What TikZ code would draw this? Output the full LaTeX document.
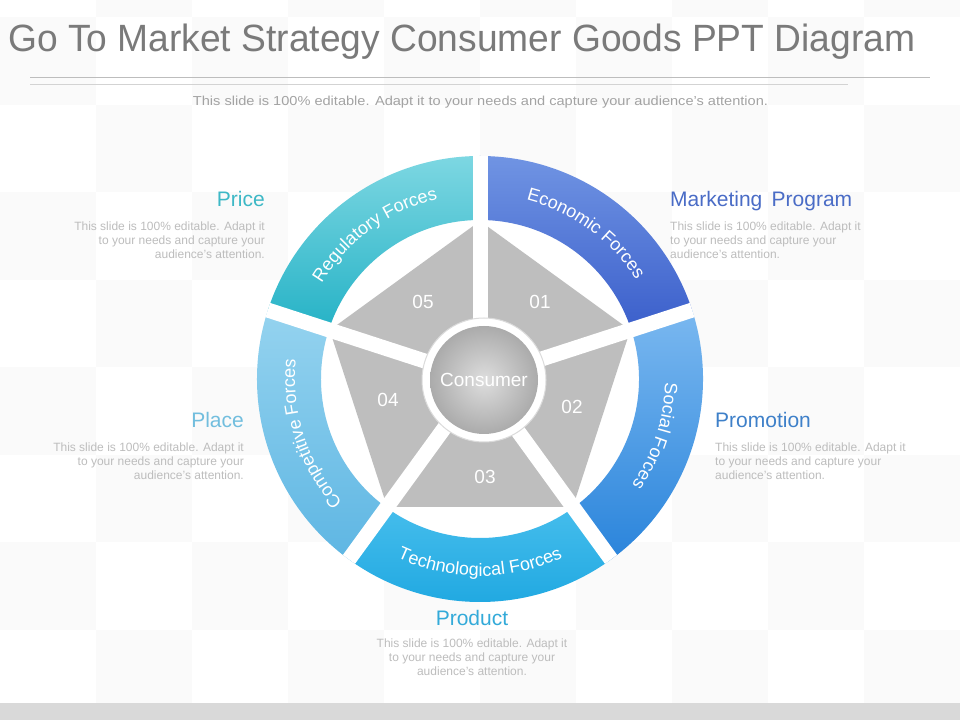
\documentclass[tikz,border=0pt]{standalone}
\usepackage{fontspec}
\setmainfont{Liberation Sans}
\usetikzlibrary{decorations.text}
\definecolor{titlegray}{HTML}{7A7A7A}
\definecolor{subgray}{HTML}{A3A3A3}
\definecolor{descgray}{HTML}{BDBDBD}
\definecolor{bargray}{HTML}{D9D9D9}
\definecolor{checker}{HTML}{FAFAFA}
\definecolor{lineA}{HTML}{BDBDBD}
\definecolor{lineB}{HTML}{D3D3D3}
\definecolor{pricecol}{HTML}{3DB8C6}
\definecolor{mktcol}{HTML}{4A6CC6}
\definecolor{placecol}{HTML}{72BEDE}
\definecolor{promocol}{HTML}{3E80C9}
\definecolor{productcol}{HTML}{33AAD9}
\definecolor{regT}{HTML}{7DD7E2}\definecolor{regB}{HTML}{25B2C6}
\definecolor{ecoT}{HTML}{7094E3}\definecolor{ecoB}{HTML}{3B5FCB}
\definecolor{socT}{HTML}{7AB8F0}\definecolor{socB}{HTML}{2A84DB}
\definecolor{tecT}{HTML}{45BDEC}\definecolor{tecB}{HTML}{1CA6E0}
\definecolor{comT}{HTML}{95D3EF}\definecolor{comB}{HTML}{5EB6E3}
\definecolor{piece}{HTML}{BEBEBE}
\newcommand\ringfont{\fontsize{18}{18}\selectfont\color{white}}
\newcommand\desctext{This slide is 100\% editable. Adapt it\\to your needs and capture your\\audience's attention.}
\begin{document}
\begin{tikzpicture}[x=1pt,y=1pt,
  header/.style={inner sep=0, font=\fontsize{21}{21}\selectfont},
  desc/.style={inner sep=0, text=descgray, font=\fontsize{12}{14}\selectfont},
  num/.style={text=white, font=\fontsize{19}{19}\selectfont},
  gapline/.style={white, line width=15pt},
  ringlabel/.style={decorate, decoration={text along path, text align=center, text={|\ringfont|#1}}}
]
\useasboundingbox (0,0) rectangle (960,720);
\fill[white] (0,0) rectangle (960,720);
% faint checker background
\begin{scope}
  \clip (0,17) rectangle (960,720);
  \foreach \c in {0,...,9} {
    \foreach \r in {-1,...,8} {
      \pgfmathtruncatemacro{\chkpar}{mod(\c+\r+2,2)}
      \ifnum\chkpar=0
        \fill[checker] ({96*\c},{720-(17.5+87.5*\r)}) rectangle ({96*(\c+1)},{720-(17.5+87.5*(\r+1))});
      \fi
    }
  }
\end{scope}
\fill[bargray] (0,0) rectangle (960,17);

% title and rules
\node[anchor=base west, inner sep=0, text=titlegray, font=\fontsize{38}{38}\selectfont] (title) at (8,668)
  {\resizebox{907pt}{\height}{Go To Market Strategy Consumer Goods PPT Diagram}};
\coordinate (l1a) at (30,643); \coordinate (l1b) at (930,643);
\coordinate (l2a) at (30,636); \coordinate (l2b) at (848,636);
\draw[lineA, line width=0.9pt] (l1a) -- (l1b);
\draw[lineB, line width=0.9pt] (l2a) -- (l2b);
\node[anchor=base, inner sep=0, text=subgray, font=\fontsize{13}{13}\selectfont] (subtitle) at (480.5,614)
  {\resizebox{575pt}{\height}{This slide is 100\% editable. Adapt it to your needs and capture your audience's attention.}};

% ring segments
\begin{scope}[shift={(480,341)}]
  \fill[white] (0,0) circle (160);
  \shade[top color=ecoT, bottom color=ecoB] (18:223) arc[start angle=18, end angle=90, radius=223] -- (90:159) arc[start angle=90, end angle=18, radius=159] -- cycle;
  \shade[top color=socT, bottom color=socB] (-54:223) arc[start angle=-54, end angle=18, radius=223] -- (18:159) arc[start angle=18, end angle=-54, radius=159] -- cycle;
  \shade[top color=tecT, bottom color=tecB] (-126:223) arc[start angle=-126, end angle=-54, radius=223] -- (-54:159) arc[start angle=-54, end angle=-126, radius=159] -- cycle;
  \shade[top color=comT, bottom color=comB] (162:223) arc[start angle=162, end angle=234, radius=223] -- (234:159) arc[start angle=234, end angle=162, radius=159] -- cycle;
  \shade[top color=regT, bottom color=regB] (90:223) arc[start angle=90, end angle=162, radius=223] -- (162:159) arc[start angle=162, end angle=90, radius=159] -- cycle;

  % pentagon
  \fill[piece] (90:158) -- (18:158) -- (-54:158) -- (-126:158) -- (162:158) -- cycle;

  % gaps
  \coordinate (o) at (0,0);
  \foreach \a in {90,18,-54,-126,162} {
    \draw[gapline] (o) -- (\a:223);
  }

  % ring labels
  \path[ringlabel={Economic Forces}] (90:185) arc[start angle=90, end angle=18, radius=185];
  \path[ringlabel={Social Forces}] (18:185) arc[start angle=18, end angle=-54, radius=185];
  \path[ringlabel={Technological Forces}] (-126:197) arc[start angle=-126, end angle=-54, radius=197];
  \path[ringlabel={Competitive Forces}] (234:185) arc[start angle=234, end angle=162, radius=185];
  \path[ringlabel={Regulatory Forces}] (162:185) arc[start angle=162, end angle=90, radius=185];
\end{scope}

% consumer circle
\fill[white, draw=black!14, line width=1pt] (484,340) circle (62);
\shade[inner color=black!13, outer color=black!33] (484,340) circle (54);
\node[text=white, font=\fontsize{19}{19}\selectfont] (consumer) at (484,340) {Consumer};

% numbers
\node[num] (n01) at (540,418) {01};
\node[num] (n02) at (572,313) {02};
\node[num] (n03) at (485,243) {03};
\node[num] (n04) at (388,320) {04};
\node[num] (n05) at (423,418) {05};

% side texts
\node[header, anchor=base east, text=pricecol] (price) at (265,513) {Price};
\node[desc, anchor=north east, align=right] (pricedesc) at (265,498.7) {\desctext};

\node[header, anchor=base west, text=mktcol] (mkt) at (670,513) {Marketing\, Program};
\node[desc, anchor=north west, align=left] (mktdesc) at (670,498.7) {\desctext};

\node[header, anchor=base east, text=placecol] (place) at (244,292) {Place};
\node[desc, anchor=north east, align=right] (placedesc) at (244,277.7) {\desctext};

\node[header, anchor=base west, text=promocol] (promo) at (715,292) {Promotion};
\node[desc, anchor=north west, align=left] (promodesc) at (715,277.7) {\desctext};

\node[header, anchor=base, text=productcol] (product) at (472,95) {Product};
\node[desc, anchor=north, align=center] (productdesc) at (472,81.7) {\desctext};
\end{tikzpicture}
\end{document}
